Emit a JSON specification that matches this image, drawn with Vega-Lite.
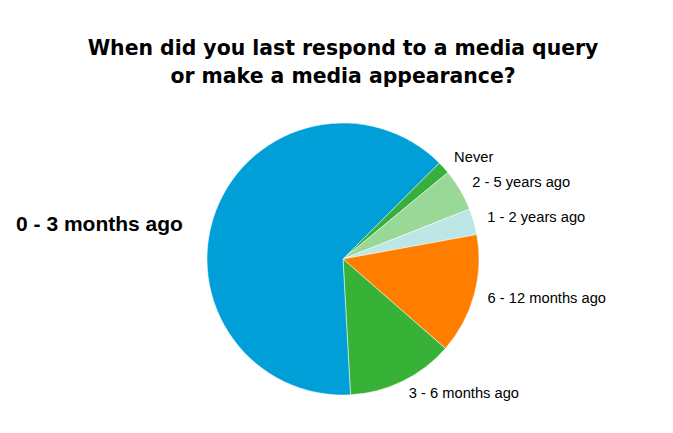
{
  "$schema": "https://vega.github.io/schema/vega-lite/v6.json",
  "width": 660,
  "height": 324,
  "padding": {"left": 13, "top": 38, "right": 0, "bottom": 0},
  "background": "white",
  "title": {
    "text": ["When did you last respond to a media query", "or make a media appearance?"],
    "font": "DejaVu Sans",
    "fontSize": 20.4,
    "fontWeight": "bold",
    "color": "#000000",
    "lineHeight": 28,
    "anchor": "middle",
    "offset": 10
  },
  "config": {"view": {"stroke": null}},
  "data": {
    "values": [
      {"idx": 1, "label": "Never", "value": 1.5},
      {"idx": 2, "label": "2 - 5 years ago", "value": 5.0},
      {"idx": 3, "label": "1 - 2 years ago", "value": 3.1},
      {"idx": 4, "label": "6 - 12 months ago", "value": 14.3},
      {"idx": 5, "label": "3 - 6 months ago", "value": 12.7},
      {"idx": 6, "label": "0 - 3 months ago", "value": 63.4}
    ]
  },
  "encoding": {
    "theta": {"field": "value", "type": "quantitative", "stack": true, "scale": {"range": [0.787, 7.070]}},
    "order": {"field": "idx", "type": "quantitative"}
  },
  "layer": [
    {
      "mark": {"type": "arc", "radius": 136, "stroke": "#ffffff", "strokeWidth": 0.5},
      "encoding": {
        "color": {
          "field": "label",
          "type": "nominal",
          "legend": null,
          "scale": {
            "domain": ["Never", "2 - 5 years ago", "1 - 2 years ago", "6 - 12 months ago", "3 - 6 months ago", "0 - 3 months ago"],
            "range": ["#36B03B", "#99D897", "#BDE6E7", "#FF7E00", "#38B236", "#009FD8"]
          }
        }
      }
    },
    {
      "mark": {"type": "text", "radius": 150, "align": "left", "baseline": "middle", "font": "Liberation Sans", "fontSize": 14.7, "color": "#000000"},
      "encoding": {
        "text": {"condition": {"test": "datum.label === '0 - 3 months ago'", "value": ""}, "field": "label"}
      }
    },
    {
      "mark": {"type": "text", "radius": 150, "align": "right", "baseline": "middle", "dx": -20, "dy": 20, "font": "Liberation Sans", "fontSize": 21, "fontWeight": "bold", "color": "#000000"},
      "encoding": {
        "text": {"condition": {"test": "datum.label !== '0 - 3 months ago'", "value": ""}, "field": "label"}
      }
    }
  ]
}
